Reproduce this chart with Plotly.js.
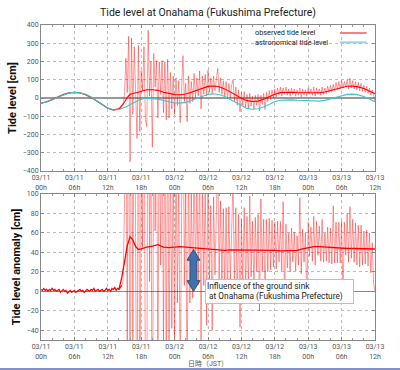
<!DOCTYPE html>
<html><head><meta charset="utf-8">
<script src="https://cdn.plot.ly/plotly-3.0.1.min.js"></script>
<style>
html,body{margin:0;padding:0;background:#fff;}
#chart{width:400px;height:370px;position:absolute;left:0;top:0;}
#bar{position:absolute;left:0;top:368px;width:400px;height:2px;background:#8591c6;}
</style>
</head><body>
<div id="chart"></div><div id="bar"></div>
<script>
// ---- data (hours since 03/11 00h JST) ----
var tickHours = [0, 6, 12, 18, 24, 30, 36, 42, 48, 54, 60];
var tickLabels = ['03/11<br>00h','03/11<br>06h','03/11<br>12h','03/11<br>18h','03/12<br>00h','03/12<br>06h','03/12<br>12h','03/12<br>18h','03/13<br>00h','03/13<br>06h','03/13<br>12h'];

// astronomical tide level [cm], hourly 0..60
var astroTide = [-29,-22,-10,4,17,27,31,29,20,5,-15,-37,-55,-65,-63,-52,-36,-19,-6,0,-1,-6,-14,-22,-27,-28,-24,-14,-2,11,20,23,19,8,-8,-26,-44,-57,-62,-59,-49,-35,-21,-12,-9,-10,-12,-14,-16,-17,-17,-13,-5,5,14,20,21,17,8,-5,-20];

// observed tide level [cm] before the tsunami, hourly 0..14
var obsPre = [-28,-21,-9,5,18,28,31,28,19,4,-16,-38,-56,-66,-62];
// observed tide level [cm], every 15 min from 14.25h to 60h
var obsPost = [
 -58,-52,-38,20,  218,30,338,-350,  328,-90,280,-60,  -222,288,-184,150,
 40,282,-120,-156,  372,10,200,-270,  243,60,205,-110,  198,20,205,-80,
 200,-120,212,-110,  140,-60,120,-90,  110,-40,95,-135,  60,232,-20,80,
 -130,120,-30,90,  -20,135,0,110,  10,148,-60,120,  20,130,10,152,
 30,110,20,120,  40,100,162,30,  110,20,95,10,  90,-5,80,0,
 70,100,-20,60,  -40,45,-75,30,  -40,35,-50,20,  -55,25,-45,10,
 -60,15,-40,20,  -70,15,-35,25,  -62,30,-20,40,  -10,45,0,50,
 5,55,15,60,  10,55,20,60,  15,50,10,55,  20,50,10,45,
 15,55,5,50,  15,45,10,55,  20,50,15,60,  10,55,20,50,
 15,60,20,55,  25,65,30,70,  35,75,40,85,  45,90,50,95,
 55,90,60,100,  50,108,55,95,  50,90,45,85,  40,80,35,70,
 30,65,25,55,  15,45,10,-20];

// smoothed observed tide level [cm]
var smoothHours = [14,14.5,15,15.5,16,16.5,17,17.5,18,19,20,21,22,23,24,25,26,27,28,29,30,31,32,33,34,35,36,37,38,39,40,41,42,43,44,45,46,47,48,49,50,51,52,53,54,55,56,57,58,59,60];
var smoothTide = [-61,-44,-22,3,20,25,27,31,37.5,45.5,45.5,42,31.5,23,18.5,18,21.5,31,42.5,55,63.5,66,61.5,50,34.5,16.5,-2,-14.5,-19.5,-17,-7,7,21,29.5,32.5,31.5,30,29.5,29,29,29,32.5,40,49.5,58.5,64,65,61,52,38.5,23.5];
// smoothed tide level anomaly [cm]
var smoothAnom = [2,14,30,47,56,53,46,43,43.5,45.5,46.5,48,45.5,45,45.5,46,45.5,45,44.5,44,43.5,43,42.5,42,42.5,42.5,42,42.5,42.5,42,42,42,42,41.5,41.5,41.5,42,43.5,45,46,46,45.5,45,44.5,44.5,44,44,44,44,43.5,43.5];

// tide level anomaly [cm], every 15 min from 0h to 14h
var anomPre = [2,1,3,1, 2,0,2,1, 3,1,2,0, 1,2,-1,1, 2,0,1,-2, 0,1,-1,0, 1,-1,0,1,
 2,0,1,-1, 0,2,1,0, 2,1,3,0, 1,2,0,1, 2,0,1,3, 1,2,0,3, 2,4,1,3, 2];
// tide level anomaly [cm], every 15 min from 14.25h to 60h
var anomPost = [
 4,6,11,90,  265,-80,400,-300,  360,-60,300,-40,  -205,300,-170,155,
 45,290,-115,-155,  372,10,200,-270,  244,62,208,-104,  205,27,213,-66,
 212,-106,228,-88,  160,-38,144,-63,  137,-12,123,-107,  87,259,6,104,
 -107,141,-12,104,  -7,146,8,112,  7,140,-64,109,  6,115,-35,132,
 9,88,-40,97,  17,77,140,11,  93,6,85,2,  86,-6,87,8,
 82,117,0,86,  -10,79,-37,74,  8,86,3,77,  3,98,15,72,
 1,76,20,79,  -20,95,20,74,  -9,74,20,75,  22,73,25,71,
 23,72,30,72,  21,92,-8,69,  24,60,20,65,  30,61,21,57,
 27,96,18,64,  30,60,-12,71,  36,66,31,77,  27,72,37,67,
 31,74,30,60,  31,66,29,65,  28,88,29,71,  29,71,29,72,
 -5,71,37,80,  30,87,34,74,  30,70,27,68,  25,68,27,62,
 28,63,26,60,  19,50,8,0];

var sinkLevel = 43;   // ground sink shown by the arrow [cm]
var arrowHour = 27.4;

// ---- time grids ----
var astroHours = astroTide.map(function(_, i){ return i; });
var obsPreHours = obsPre.map(function(_, i){ return i; });
var obsPostHours = obsPost.map(function(_, i){ return 14.25 + i * 0.25; });
var anomPreHours = anomPre.map(function(_, i){ return i * 0.25; });
var anomPostHours = anomPost.map(function(_, i){ return 14.25 + i * 0.25; });

var FONT = 'Roboto, "Noto Sans CJK JP", sans-serif';
var RED = '#ff0000';
var PINK = 'rgba(255,0,0,0.5)';
var CYAN = '#38c9cf';

var traces = [
  {x: obsPreHours.concat([obsPostHours[0]]), y: obsPre.concat([obsPost[0]]), xaxis:'x', yaxis:'y', mode:'lines', line:{color:RED, width:1.4}},
  {x: obsPostHours, y: obsPost, xaxis:'x', yaxis:'y', mode:'lines', line:{color:PINK, width:0.8}},
  {x: smoothHours, y: smoothTide, xaxis:'x', yaxis:'y', mode:'lines', line:{color:RED, width:1.1}},
  {x: astroHours, y: astroTide, xaxis:'x', yaxis:'y', mode:'lines', line:{color:CYAN, width:1.1}},
  {x: anomPreHours.concat([anomPostHours[0], anomPostHours[1]]), y: anomPre.concat([anomPost[0], anomPost[1]]), xaxis:'x2', yaxis:'y2', mode:'lines', line:{color:RED, width:1.2}},
  {x: anomPostHours, y: anomPost, xaxis:'x2', yaxis:'y2', mode:'lines', line:{color:PINK, width:0.8}},
  {x: smoothHours, y: smoothAnom, xaxis:'x2', yaxis:'y2', mode:'lines', line:{color:RED, width:1.3}}
];

function xAxis(anchor, title){
  var a = {
    domain:[0,1], range:[0,60], anchor:anchor,
    tickmode:'array', tickvals:tickHours, ticktext:tickLabels,
    tickfont:{family:FONT, size:7, color:'#555'},
    ticks:'inside', ticklen:3, tickcolor:'#888',
    minor:{tickmode:'linear', tick0:0, dtick:2, ticks:'inside', ticklen:2, tickcolor:'#999', showgrid:false},
    showgrid:true, gridcolor:'#bbb', griddash:'dot', gridwidth:1,
    showline:true, linecolor:'#888', linewidth:1, mirror:'ticks',
    zeroline:false
  };
  if (title) a.title = {text:title, font:{family:FONT, size:7, color:'#555'}, standoff:1};
  return a;
}
function yAxis(domain, anchor, range, tickvals, title, zw, zc){
  return {
    domain:domain, range:range, anchor:anchor,
    tickmode:'array', tickvals:tickvals,
    tickfont:{family:FONT, size:7, color:'#555'},
    ticks:'inside', ticklen:3, tickcolor:'#888',
    showgrid:true, gridcolor:'#bbb', griddash:'dot', gridwidth:1,
    showline:true, linecolor:'#888', linewidth:1, mirror:'ticks',
    zeroline:true, zerolinecolor:zc, zerolinewidth:zw,
    title:{text:title, font:{family:FONT, size:11, color:'#111', weight:'bold'}, standoff:3}
  };
}

var layout = {
  width:400, height:370,
  margin:{l:41, r:25, t:25, b:30},
  paper_bgcolor:'#fff', plot_bgcolor:'#fff',
  showlegend:false,
  title:{text:'Tide level at Onahama (Fukushima Prefecture)', x:0.5, xref:'paper', xanchor:'center', y:1-12.7/370, yref:'container', yanchor:'middle', font:{family:FONT, size:10.5, color:'#222'}},
  xaxis: xAxis('y'),
  yaxis: yAxis([0.5365,1], 'x', [-400,400], [-400,-300,-200,-100,0,100,200,300,400], 'Tide level [cm]', 2, '#999'),
  xaxis2: xAxis('y2', '日時（JST）'),
  yaxis2: yAxis([0,0.4635], 'x2', [-50,100], [-40,-20,0,20,40,60,80,100], 'Tide level anomaly [cm]', 1, '#888'),
  annotations:[
    {text:'observed tide level', xref:'paper', yref:'paper', x:0.634, y:0.9756, xanchor:'left', yanchor:'middle', showarrow:false, font:{family:FONT, size:7.3, color:'#222'}},
    {text:'astronomical tide level', xref:'paper', yref:'paper', x:0.634, y:0.9438, xanchor:'left', yanchor:'middle', showarrow:false, font:{family:FONT, size:7.3, color:'#222'}},
    {text:'Influence of the ground sink<br>\u00a0at Onahama (Fukushima Prefecture)', xref:'paper', yref:'paper', x:0.714, y:0.154, xanchor:'center', yanchor:'middle', align:'left', showarrow:false,
     bgcolor:'#fff', bordercolor:'#a9c4e0', borderwidth:1, borderpad:1, width:145, height:21,
     font:{family:FONT, size:8.3, color:'#222'}}
  ],
  shapes:[
    {type:'line', xref:'paper', yref:'paper', x0:0.895, x1:0.975, y0:0.9746, y1:0.9746, line:{color:'rgb(245,130,130)', width:2}},
    {type:'line', xref:'paper', yref:'paper', x0:0.895, x1:0.975, y0:0.9448, y1:0.9448, line:{color:'rgb(150,210,240)', width:2}},
    {type:'path', xref:'x2', yref:'y2',
     path:'M '+arrowHour+','+sinkLevel+' L '+(arrowHour+1.17)+','+(sinkLevel-11)+' L '+(arrowHour+0.6)+','+(sinkLevel-11)+
          ' L '+(arrowHour+0.6)+',11 L '+(arrowHour+1.17)+',11 L '+arrowHour+',0 L '+(arrowHour-1.17)+',11 L '+(arrowHour-0.6)+',11'+
          ' L '+(arrowHour-0.6)+','+(sinkLevel-11)+' L '+(arrowHour-1.17)+','+(sinkLevel-11)+' Z',
     fillcolor:'#3f72aa', line:{color:'#2b5583', width:1}}
  ]
};

Plotly.newPlot('chart', traces, layout, {staticPlot:true, displayModeBar:false});
</script>
</body></html>
